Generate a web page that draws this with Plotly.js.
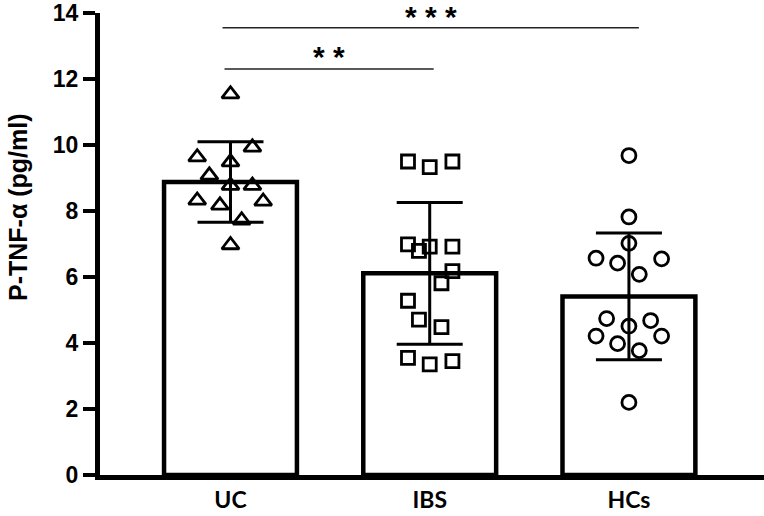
<!DOCTYPE html>
<html>
<head>
<meta charset="utf-8">
<script src="https://cdn.plot.ly/plotly-3.0.1.min.js"></script>
<style>
  html, body { margin: 0; padding: 0; background: #fff; }
  #tnfChart { width: 764px; height: 516px; }
</style>
</head>
<body>
<div id="tnfChart"></div>
<script>
// Groups and summary values (mean, SD)
const groups = ["UC", "IBS", "HCs"];
const groupMeans = [8.88, 6.11, 5.41];
const groupSD = [1.22, 2.15, 1.92];

// Individual values per group, with horizontal jitter (category units)
const ucValues = [11.54, 9.93, 9.63, 9.48, 9.08, 8.77, 8.77, 8.32, 8.17, 8.29, 7.72, 6.97];
const ucJitter = [0, 0.11, -0.167, 0, -0.106, 0, 0.11, -0.167, -0.053, 0.164, 0.056, 0];

const ibsValues = [9.5, 9.33, 9.5, 6.99, 6.79, 6.92, 6.92, 6.18, 5.81, 5.28, 4.71, 4.48, 3.55, 3.35, 3.45];
const ibsJitter = [-0.109, 0, 0.114, -0.109, -0.054, 0, 0.114, 0.114, 0.059, -0.109, -0.054, 0.059, -0.109, 0, 0.114];

const hcValues = [9.68, 7.82, 7.02, 6.57, 6.55, 6.42, 6.08, 4.74, 4.68, 4.51, 4.21, 4.21, 3.98, 3.77, 2.2];
const hcJitter = [0, 0, 0, -0.165, 0.164, -0.057, 0.052, -0.112, 0.109, 0, -0.165, 0.164, -0.057, 0.052, 0];

// Significance brackets: line span, line height, star label height
const sigBrackets = [
  { x0: -0.03, x1: 1.02, y: 12.3, labelY: 12.79, label: "* *" },
  { x0: -0.04, x1: 2.05, y: 13.55, labelY: 14.03, label: "* * *" },
];

const yMax = 14;
const groupPos = groups.map((g, i) => i);
const boldArial = "Liberation Sans, Arial, sans-serif";

const barTrace = {
  type: "bar",
  x: groupPos,
  y: groupMeans,
  width: 0.667,
  marker: { color: "white", line: { color: "black", width: 4.5 } },
  hoverinfo: "skip",
  showlegend: false,
};

function pointsTrace(values, jitter, idx, symbol, size) {
  return {
    type: "scatter",
    mode: "markers",
    x: jitter.map((j) => idx + j),
    y: values,
    marker: {
      symbol: symbol,
      size: size,
      color: "black",
      line: { color: "black", width: 2.8 },
    },
    cliponaxis: false,
    showlegend: false,
  };
}

const ucTrace = pointsTrace(ucValues, ucJitter, 0, "triangle-up-open", 15);
const ibsTrace = pointsTrace(ibsValues, ibsJitter, 1, "square-open", 13);
const hcTrace = pointsTrace(hcValues, hcJitter, 2, "circle-open", 14);

// Error bars drawn last so they sit on top of the points
const errTrace = {
  type: "scatter",
  mode: "markers",
  x: groupPos,
  y: groupMeans,
  marker: { size: 1, color: "rgba(0,0,0,0)" },
  error_y: {
    type: "data",
    array: groupSD,
    visible: true,
    color: "black",
    thickness: 3,
    width: 33,
  },
  showlegend: false,
  hoverinfo: "skip",
};

const shapes = sigBrackets.map((b) => ({
  type: "line",
  xref: "x",
  yref: "y",
  x0: b.x0,
  x1: b.x1,
  y0: b.y,
  y1: b.y,
  line: { color: "#222", width: 1.5 },
}));

// star labels use paper y so the top one is not hidden above the axis range
const annotations = sigBrackets.map((b) => ({
  xref: "x",
  yref: "paper",
  x: (b.x0 + b.x1) / 2,
  y: b.labelY / yMax,
  yanchor: "middle",
  yshift: -4,
  text: b.label,
  showarrow: false,
  font: { family: boldArial, size: 30, color: "black", weight: 700 },
}));

annotations.push({
  xref: "paper",
  yref: "paper",
  x: -0.1235,
  y: 0.58,
  xanchor: "center",
  yanchor: "middle",
  textangle: -90,
  text: "P-TNF-α (pg/ml)",
  showarrow: false,
  font: { family: boldArial, size: 25, color: "black", weight: 700 },
});

const layout = {
  width: 764,
  height: 516,
  margin: { l: 100, r: 0, t: 13, b: 40.5 },
  paper_bgcolor: "white",
  plot_bgcolor: "white",
  showlegend: false,
  xaxis: {
    range: [-0.655, 2.678],
    tickvals: groupPos,
    ticktext: groups,
    ticks: "",
    showgrid: false,
    zeroline: false,
    showline: true,
    linecolor: "black",
    linewidth: 5,
    tickfont: { family: "Lato, Open Sans, sans-serif", size: 23, color: "black", weight: 700 },
  },
  yaxis: {
    range: [0, yMax],
    dtick: 2,
    ticks: "outside",
    ticklen: 12,
    tickwidth: 4,
    tickcolor: "black",
    ticklabeloverflow: "allow",
    showgrid: false,
    zeroline: false,
    showline: true,
    linecolor: "black",
    linewidth: 5,
    tickfont: { family: boldArial, size: 23, color: "black", weight: 700 },
  },
  shapes: shapes,
  annotations: annotations,
};

Plotly.newPlot("tnfChart", [barTrace, ucTrace, ibsTrace, hcTrace, errTrace], layout, {
  displayModeBar: false,
  staticPlot: true,
});
</script>
</body>
</html>
